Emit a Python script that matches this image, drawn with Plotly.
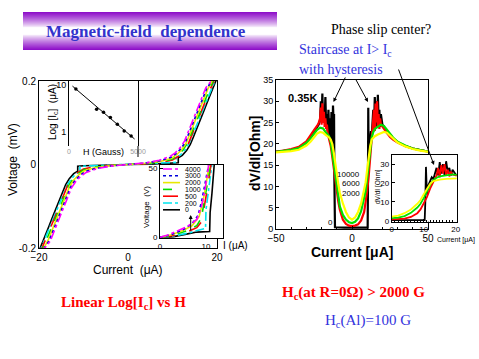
import plotly.graph_objects as go

W, H = 479, 359
SANS = "Liberation Sans"
SERIF = "Liberation Serif"


def px(x):
    return x / W


def py(y):
    return 1 - y / H


# ---------------- Left inset: log(Ic) vs H ----------------
h_field = [500, 2000, 2500, 3000, 3500, 4000, 4500]
ic_values = [8.1, 3.0, 2.6, 2.0, 1.44, 1.03, 0.81]
fit_h = [250, 4750]
fit_ic = [9.35, 0.70]

# ---------------- Left main: I-V curves (positive branch) ----------------
iv_labels = ["4000", "3000", "2000", "1000", "500", "200", "0"]

iv_I_4000 = [0, 4, 7, 9.4, 10.6, 11.7, 12.7, 13.4, 14.2, 15.0, 15.8, 16.6, 17.5, 18.7, 19.3]
iv_V_4000 = [0, 0.004, 0.01, 0.019, 0.028, 0.04, 0.056, 0.074, 0.096, 0.118, 0.14, 0.16, 0.184, 0.2, 0.215]
iv_I_3000 = [0, 4, 7.2, 9.6, 10.8, 11.9, 12.9, 13.6, 14.4, 15.2, 16.0, 16.8, 17.7, 18.8, 19.4]
iv_V_3000 = [0, 0.0035, 0.009, 0.017, 0.026, 0.038, 0.054, 0.072, 0.094, 0.116, 0.138, 0.158, 0.182, 0.2, 0.215]
iv_I_2000 = [0, 4, 7.5, 9.8, 11.0, 12.1, 13.1, 13.8, 14.6, 15.4, 16.2, 17.0, 17.9, 18.9, 19.5]
iv_V_2000 = [0, 0.003, 0.008, 0.015, 0.024, 0.036, 0.052, 0.07, 0.092, 0.114, 0.136, 0.156, 0.18, 0.2, 0.215]
iv_I_1000 = [0, 4, 8, 10, 11.2, 12.3, 13.3, 14.0, 14.8, 15.6, 16.4, 17.2, 18.1, 19.1, 19.7]
iv_V_1000 = [0, 0.0025, 0.007, 0.013, 0.022, 0.034, 0.05, 0.068, 0.09, 0.112, 0.134, 0.154, 0.178, 0.2, 0.215]
iv_I_500 = [0, 4, 8, 10, 11.4, 12.5, 13.5, 14.2, 15.0, 15.8, 16.6, 17.4, 18.3, 19.3, 19.9]
iv_V_500 = [0, 0.002, 0.006, 0.011, 0.02, 0.032, 0.048, 0.066, 0.088, 0.11, 0.132, 0.152, 0.176, 0.2, 0.215]
iv_I_200 = [0, 5, 10, 10.8, 10.8, 11.8, 12.8, 13.7, 14.4, 15.2, 16.0, 16.8, 17.5, 18.5, 19.5, 20.1]
iv_V_200 = [0, 0.0015, 0.004, 0.005, 0.017, 0.023, 0.035, 0.05, 0.068, 0.088, 0.108, 0.13, 0.148, 0.174, 0.2, 0.215]
iv_I_0 = [0, 5, 10, 11.3, 11.3, 12.2, 13.2, 14.0, 14.7, 15.5, 16.2, 17.0, 17.7, 18.7, 19.7, 20.3]
iv_V_0 = [0, 0.001, 0.003, 0.004, 0.016, 0.022, 0.034, 0.048, 0.066, 0.086, 0.106, 0.127, 0.146, 0.172, 0.2, 0.215]

# ---------------- Left lower inset: low-voltage I-V ----------------
lo_I_4000 = [0, 2, 4, 6, 8, 9, 9.8, 10.4, 10.6]
lo_V_4000 = [0, 2, 5, 8, 13, 22, 35, 50, 53]
lo_I_3000 = [0, 2.5, 5, 7, 8.3, 9.1, 9.8, 10.5, 10.6]
lo_V_3000 = [0, 2, 5.5, 10, 16, 27, 39, 50, 53]
lo_I_2000 = [0, 2.5, 5, 7, 8.5, 9.4, 10.0, 10.6, 10.7]
lo_V_2000 = [0, 1.8, 5, 8.5, 15, 27, 38, 50, 53]
lo_I_1000 = [0, 3, 6, 8, 9, 9.6, 10.2, 10.8, 10.9]
lo_V_1000 = [0, 1.6, 5, 8.5, 14, 25, 37, 50, 53]
lo_I_500 = [0, 3, 6, 8, 9.2, 9.6, 10.3, 11.0, 11.1]
lo_V_500 = [0, 1.3, 4, 7, 12, 22, 35, 50, 53]
lo_I_200 = [0, 3, 6, 8, 9.9, 10.0, 10.6, 11.2, 11.3]
lo_V_200 = [0, 1, 3, 5, 6.5, 20, 35, 50, 53]
lo_I_0 = [0, 3, 6, 8, 10.8, 10.9, 11.3, 11.7, 11.8]
lo_V_0 = [0, 0.5, 2.5, 3.8, 4.2, 18, 32, 50, 53]

# ---------------- Right: dV/dI vs I at 0.35 K ----------------
dv_labels = ["10000", "6000", "2000", "0"]
grid_I = [-50, -45, -40, -35, -30, -27, -25, -23, -21, -19,
          -17, -15, -14, -13, -12, -11, -10, -9, -8, -6,
          -4, -2, 0, 2, 4, 6, 8, 9, 10, 11,
          12, 13, 14, 15, 17, 19, 21, 23, 25, 27,
          30, 35, 40, 45, 50]
dv_10000 = [18.0, 18.1, 18.3, 18.6, 19.6, 20.6, 21.6, 22.4, 22.8, 22.6,
            22.0, 21.5, 21.0, 20.0, 18.0, 16.0, 13.0, 10.5, 8.5, 6.0,
            4.0, 2.7, 2.2, 2.7, 4.0, 6.0, 9.0, 11.0, 14.0, 17.0,
            19.5, 21.0, 21.5, 21.8, 22.2, 22.6, 22.8, 22.6, 22.0, 21.2,
            20.3, 19.4, 18.8, 18.4, 18.1]
dv_6000 = [18.1, 18.3, 18.6, 19.0, 20.2, 21.4, 22.4, 23.3, 23.8, 23.6,
           22.6, 21.7, 20.5, 18.0, 15.5, 13.5, 10.5, 8.3, 5.3, 3.3,
           2.2, 1.6, 1.4, 1.7, 2.5, 4.2, 7.0, 9.0, 12.0, 15.5,
           19.0, 21.5, 22.8, 23.5, 24.0, 24.5, 24.2, 23.2, 22.3, 21.5,
           20.5, 19.6, 18.9, 18.5, 18.2]
red_I = [-50, -45, -40, -35, -30, -27, -25, -23, -22, -21,
         -20.5, -20, -19.5, -19, -18.5, -18, -17.5, -17, -16.5, -16,
         -15, -14, -13, -12, -11, -10, -9, -8, -6, -4,
         -2, 0, 2, 4, 6, 8, 9, 10, 11, 12,
         13, 14, 14.5, 15, 15.5, 16, 16.5, 17, 17.5, 18,
         18.5, 19, 20, 21, 23, 25, 27, 30, 35, 40,
         45, 50]
dv_2000 = [18.2, 18.4, 18.8, 19.3, 20.6, 22.0, 23.2, 24.2, 24.8, 26.0,
           28.5, 24.5, 29.5, 25.0, 27.5, 24.0, 26.0, 23.5, 24.5, 22.5,
           21.0, 19.5, 17.0, 14.0, 11.0, 8.5, 6.4, 4.5, 2.2, 1.2,
           0.8, 0.7, 0.8, 1.1, 2.0, 4.0, 6.0, 9.0, 12.5, 17.0,
           21.0, 24.0, 28.0, 23.0, 29.5, 25.0, 30.0, 24.0, 27.0, 23.5,
           26.0, 24.5, 24.0, 23.5, 22.4, 21.6, 21.0, 20.3, 19.5, 18.9,
           18.5, 18.2]
blk_I = [-50, -45, -40, -35, -30, -27, -25, -23, -22, -21,
         -20.5, -20, -19.5, -19, -18.5, -18, -17.5, -17, -16.5, -16,
         -15.5, -15, -14.5, -14, -13.5, -13, -12.5, -12, -11.8, -11.6,
         -11.4, -11.2, -5, 0, 5, 10, 10.3, 10.5, 10.7, 11,
         11.5, 12, 12.5, 13, 13.5, 14, 14.5, 15, 15.5, 16,
         16.5, 17, 17.5, 18, 18.5, 19, 20, 21, 23, 25,
         27, 30, 35, 40, 45, 50]
dv_0 = [18.1, 18.3, 18.6, 19.1, 20.4, 21.8, 23.0, 24.0, 24.5, 25.5,
        30.0, 26.0, 31.8, 25.0, 28.0, 26.0, 31.0, 24.0, 27.0, 23.0,
        28.0, 22.0, 26.0, 21.0, 27.5, 20.0, 29.0, 24.0, 27.0, 12.0,
        3.0, 0.4, 0.3, 0.3, 0.3, 0.3, 0.3, 10.0, 28.5, 14.0,
        19.0, 21.0, 23.0, 22.0, 25.0, 28.0, 24.0, 31.0, 25.0, 30.0,
        24.0, 31.5, 26.0, 28.0, 24.0, 27.0, 24.5, 24.0, 22.6, 21.8,
        21.2, 20.4, 19.5, 18.9, 18.5, 18.2]

assert len(grid_I) == len(dv_10000) == len(dv_6000)
assert len(red_I) == len(dv_2000)
assert len(blk_I) == len(dv_0)

fig = go.Figure()

# ---- left inset (log)
fig.add_trace(go.Scatter(x=fit_h, y=fit_ic, mode="lines", line=dict(color="black", width=1),
                         xaxis="x2", yaxis="y2"))
fig.add_trace(go.Scatter(x=h_field, y=ic_values, mode="markers",
                         marker=dict(color="black", size=3.5), xaxis="x2", yaxis="y2"))

# ---- left main IV
iv_colors = {"4000": "#ff00ff", "3000": "#0000dd", "2000": "#e8e800", "1000": "#00dd00",
             "500": "#ff0000", "200": "#00e5ee", "0": "#000000"}
iv_dash = {"4000": "dashdot", "3000": "dot", "2000": "solid", "1000": "dash",
           "500": "longdash", "200": "dashdot", "0": "solid"}
iv_data = {"4000": (iv_I_4000, iv_V_4000), "3000": (iv_I_3000, iv_V_3000),
           "2000": (iv_I_2000, iv_V_2000), "1000": (iv_I_1000, iv_V_1000),
           "500": (iv_I_500, iv_V_500), "200": (iv_I_200, iv_V_200), "0": (iv_I_0, iv_V_0)}
lo_data = {"4000": (lo_I_4000, lo_V_4000), "3000": (lo_I_3000, lo_V_3000),
           "2000": (lo_I_2000, lo_V_2000), "1000": (lo_I_1000, lo_V_1000),
           "500": (lo_I_500, lo_V_500), "200": (lo_I_200, lo_V_200), "0": (lo_I_0, lo_V_0)}

for lab in reversed(iv_labels):
    I, V = iv_data[lab]
    xs = [-v for v in reversed(I)] + I
    ys = [-v for v in reversed(V)] + V
    fig.add_trace(go.Scatter(x=xs, y=ys, mode="lines",
                             line=dict(color=iv_colors[lab], width=1.6, dash=iv_dash[lab]),
                             xaxis="x", yaxis="y"))
for lab in reversed(iv_labels):
    I, V = lo_data[lab]
    fig.add_trace(go.Scatter(x=I, y=V, mode="lines",
                             line=dict(color=iv_colors[lab], width=1.6, dash=iv_dash[lab]),
                             xaxis="x3", yaxis="y3"))

# ---- right dV/dI (main + inset)
dv_series = [(blk_I, dv_0, "#000000"), (red_I, dv_2000, "#ff0000"),
             (grid_I, dv_6000, "#00e000"), (grid_I, dv_10000, "#ffff00")]
for ax, ay, w in [("x4", "y4", 2.2), ("x5", "y5", 1.8)]:
    for I, R, c in dv_series:
        fig.add_trace(go.Scatter(x=I, y=R, mode="lines", line=dict(color=c, width=w),
                                 xaxis=ax, yaxis=ay))


def axis(dom, rng, anchor, **kw):
    d = dict(domain=dom, range=rng, anchor=anchor, showline=True, linecolor="black",
             linewidth=1, mirror=True, showgrid=False, zeroline=False, ticks="inside",
             ticklen=3, tickcolor="black", automargin=False,
             tickfont=dict(family=SANS, size=10, color="black"))
    d.update(kw)
    return d


layout = dict(
    width=W, height=H, margin=dict(l=0, r=0, t=0, b=0, pad=0, autoexpand=False),
    paper_bgcolor="white", plot_bgcolor="white", showlegend=False,
    font=dict(family=SANS, color="black"),
    xaxis=axis([px(39), px(217)], [-20, 20], "y", tickvals=[-20, 0, 20], ticks=""),
    yaxis=axis([py(248), py(81)], [-0.2, 0.2], "x", tickvals=[-0.2, 0, 0.2],
               ticktext=["-0.2", "0", "0.2"], ticks=""),
    xaxis2=axis([px(69), px(138)], [0, 5000], "y2", tickvals=[0, 5000], showline=False,
                ticks="", tickfont=dict(family=SANS, size=7, color="#999999")),
    yaxis2=axis([py(146), py(81)], [-0.304, 1.079], "x2", type="log", tickvals=[1, 10],
                ticktext=["1", "10"], ticks="", tickfont=dict(family=SANS, size=9, color="black")),
    xaxis3=axis([px(160), px(223)], [0, 13.7], "y3", tickvals=[0, 10],
                tickfont=dict(family=SANS, size=8, color="black")),
    yaxis3=axis([py(238), py(165)], [-0.5, 52.5], "x3", tickvals=[0, 50],
                tickfont=dict(family=SANS, size=8, color="black")),
    xaxis4=axis([px(276), px(428)], [-50, 50], "y4", tickvals=[-50, 0, 50],
                minor=dict(dtick=10, ticklen=2, ticks="inside", tickcolor="black")),
    yaxis4=axis([py(229), py(80)], [0, 35], "x4", dtick=5,
                tickfont=dict(family=SANS, size=9, color="black")),
    xaxis5=axis([px(391.7), px(456.7)], [0, 20.3], "y5", tickvals=[0, 10, 20],
                tickfont=dict(family=SANS, size=8, color="black"),
                minor=dict(dtick=1, ticklen=2, ticks="inside", tickcolor="black")),
    yaxis5=axis([py(221.7), py(155)], [-0.5, 34.8], "x5", tickvals=[0, 10, 20, 30],
                tickfont=dict(family=SANS, size=8, color="black")),
)

# ---- banner gradient (title band)
shapes = []
top, bot = 12, 50
n = bot - top
for k in range(n):
    t = (k + 0.5) / n
    d = abs(t - 0.5) * 2
    w = max(0.0, min(1.0, (d - 0.18) / 0.82)) ** 0.8
    r = int(255 * (1 - w) + 140 * w)
    g = int(255 * (1 - w) + 10 * w)
    b = int(255 * (1 - w) + 200 * w)
    shapes.append(dict(type="rect", xref="paper", yref="paper", x0=px(23), x1=px(277),
                       y0=py(top + k + 1.05), y1=py(top + k), fillcolor=f"rgb({r},{g},{b})",
                       line=dict(width=0), layer="below"))

# inset box right edge extension (left inset)
shapes.append(dict(type="line", xref="paper", yref="paper", x0=px(138), x1=px(138),
                   y0=py(146), y1=py(157), line=dict(color="black", width=1)))

# legend of lower-left inset
leg_y = [169, 175.8, 182.6, 189.4, 196.2, 203, 209.8]
annotations = []
for lab, yy in zip(iv_labels, leg_y):
    shapes.append(dict(type="line", xref="paper", yref="paper", x0=px(163), x1=px(180),
                       y0=py(yy), y1=py(yy),
                       line=dict(color=iv_colors[lab], width=1.6, dash=iv_dash[lab])))
    annotations.append(dict(x=px(183), y=py(yy), xref="paper", yref="paper", text=lab,
                            showarrow=False, xanchor="left", yanchor="middle",
                            font=dict(family=SANS, size=7, color="black")))


def T(x, y, text, size, color="black", family=SANS, xanchor="center", angle=0):
    annotations.append(dict(x=px(x), y=py(y), xref="paper", yref="paper", text=text,
                            showarrow=False, xanchor=xanchor, yanchor="middle",
                            textangle=angle, font=dict(family=family, size=size, color=color)))


T(146, 31, "<b>Magnetic-field  dependence</b>", 17, "#3333cc", SERIF)
T(381, 30, "Phase slip center?", 14, "black", SERIF)
T(297, 50, "Staircase at I> I<sub>c</sub>", 14, "#3333dd", SERIF, "left")
T(297, 69, "with hysteresis", 14, "#3333dd", SERIF, "left")
T(302, 98, "<b>0.35K</b>", 11)
T(362, 174, "10000", 8, xanchor="right")
T(362, 183.5, "6000", 8, xanchor="right")
T(362, 193, "2000", 8, xanchor="right")
T(330, 223, "0", 8)
T(255, 153, "<b>dV/dI[Ohm]</b>", 14, angle=-90)
T(352, 252, "<b>Current [μA]</b>", 14)
T(378, 187, "dV/dI [Ohm]", 6.5, angle=-90)
T(435, 240, "Current [μA]", 7, xanchor="left")
T(13, 160, "Voltage  (mV)", 12, angle=-90)
T(128, 270, "Current  (μA)", 12)
T(53, 112, "Log [I<sub>c</sub>]  (μA)", 10, angle=-90)
T(103, 152, "H (Gauss)", 9)
T(147, 207, "Voltage  (V)", 8, angle=-90)
T(221, 245, "I (μA)", 10, xanchor="left")
T(124, 303, "<b>Linear Log[I<sub>c</sub>] vs H</b>", 15, "#ff0000", SERIF)
T(353, 293, "<b>H<sub>c</sub>(at R=0Ω) > 2000 G</b>", 15, "#ff0000", SERIF)
T(368, 321, "H<sub>c</sub>(Al)=100 G", 15, "#3333dd", SERIF)

# arrows
for hx, hy, tx, ty in [(333.5, 102, 346, 76), (368, 102, 355, 78), (434, 165, 398, 68),
                       (190.7, 215, 190.7, 232)]:
    annotations.append(dict(x=px(hx), y=py(hy), xref="paper", yref="paper", text="",
                            showarrow=True, ax=tx - hx, ay=ty - hy, axref="pixel",
                            ayref="pixel", arrowhead=2, arrowsize=0.8, arrowwidth=1,
                            arrowcolor="black", standoff=0))

layout["shapes"] = shapes
layout["annotations"] = annotations
fig.update_layout(**layout)
fig.write_html("out.html", config={"displayModeBar": False},
               post_script="document.body.style.margin='0px';document.body.style.overflow='hidden';")
